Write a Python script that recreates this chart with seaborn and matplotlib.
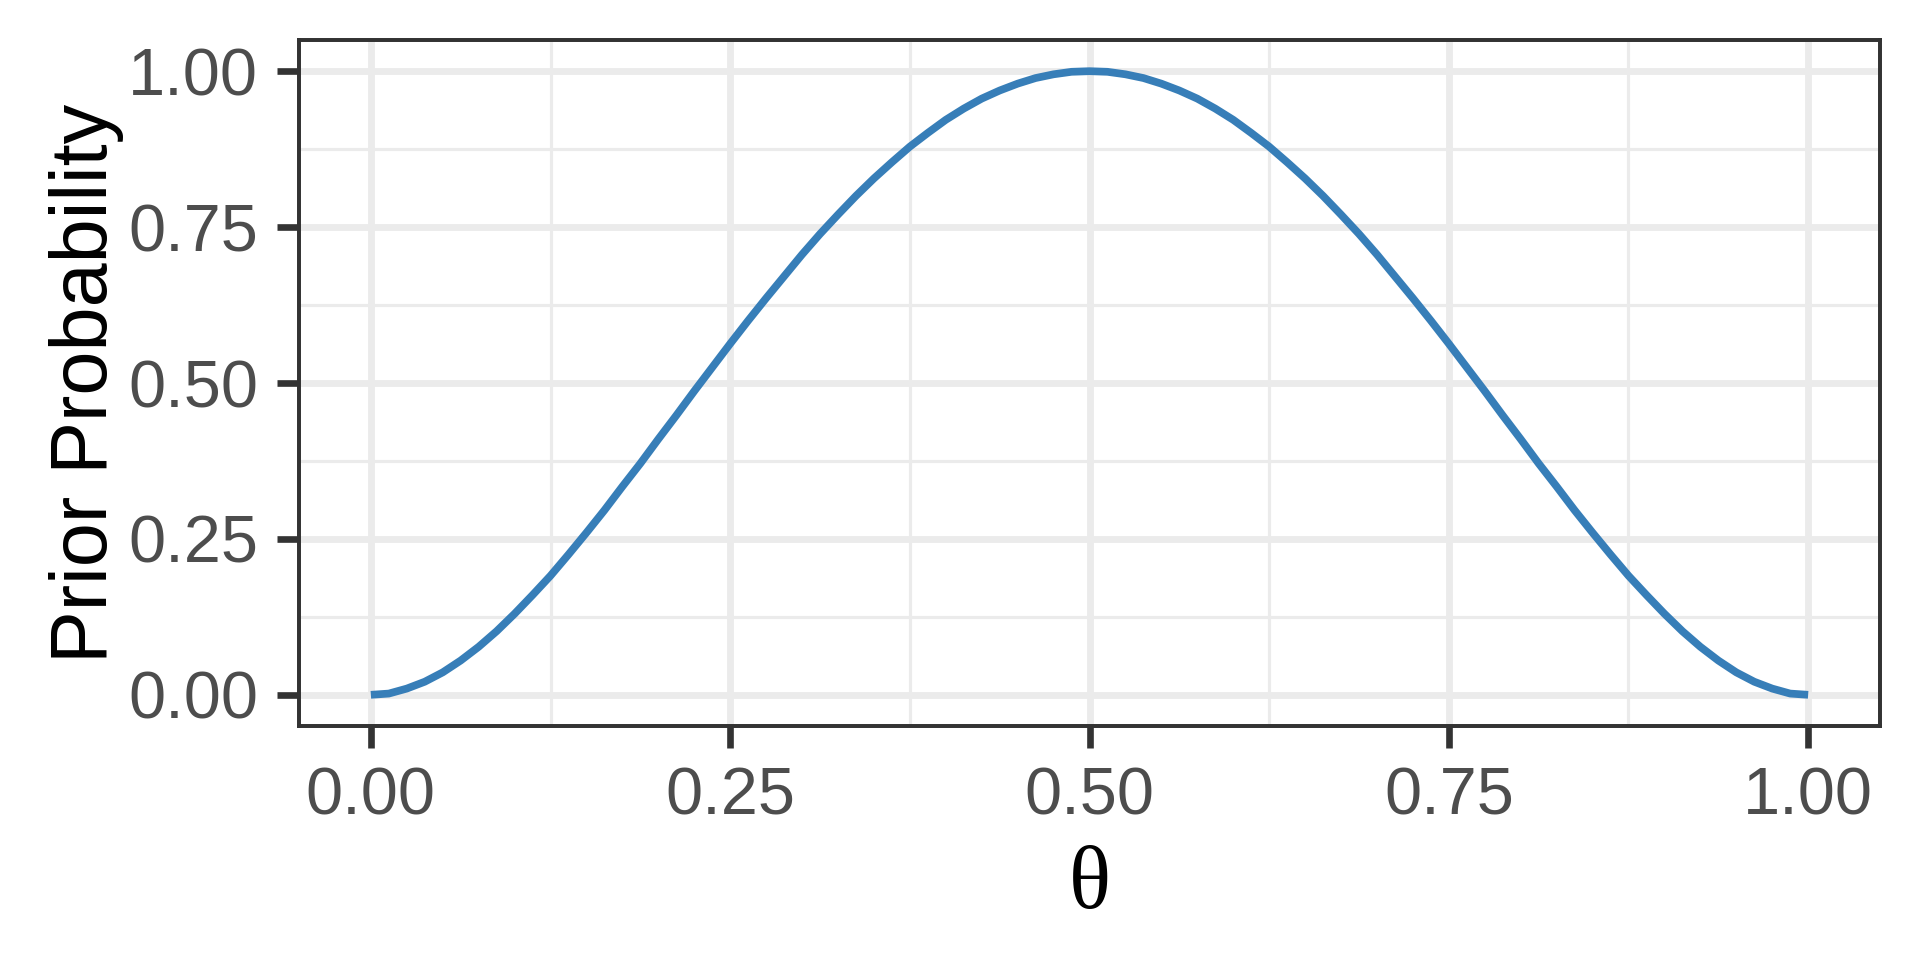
import matplotlib
matplotlib.use("Agg")
import matplotlib.pyplot as plt
import seaborn as sns
import pandas as pd

# valeurs (courbe symétrique, max 1 à 0.5)
theta = [0.0000, 0.0125, 0.0250, 0.0375, 0.0500, 0.0625, 0.0750, 0.0875,
         0.1000, 0.1125, 0.1250, 0.1375, 0.1500, 0.1625, 0.1750, 0.1875,
         0.2000, 0.2125, 0.2250, 0.2375, 0.2500, 0.2625, 0.2750, 0.2875,
         0.3000, 0.3125, 0.3250, 0.3375, 0.3500, 0.3625, 0.3750, 0.3875,
         0.4000, 0.4125, 0.4250, 0.4375, 0.4500, 0.4625, 0.4750, 0.4875,
         0.5000, 0.5125, 0.5250, 0.5375, 0.5500, 0.5625, 0.5750, 0.5875,
         0.6000, 0.6125, 0.6250, 0.6375, 0.6500, 0.6625, 0.6750, 0.6875,
         0.7000, 0.7125, 0.7250, 0.7375, 0.7500, 0.7625, 0.7750, 0.7875,
         0.8000, 0.8125, 0.8250, 0.8375, 0.8500, 0.8625, 0.8750, 0.8875,
         0.9000, 0.9125, 0.9250, 0.9375, 0.9500, 0.9625, 0.9750, 0.9875,
         1.0000]
prior = [0.000, 0.002, 0.010, 0.021, 0.036, 0.055, 0.077, 0.102,
         0.130, 0.160, 0.191, 0.225, 0.260, 0.296, 0.334, 0.371,
         0.410, 0.448, 0.487, 0.525, 0.563, 0.600, 0.636, 0.671,
         0.706, 0.739, 0.770, 0.800, 0.828, 0.854, 0.879, 0.901,
         0.922, 0.940, 0.956, 0.969, 0.980, 0.989, 0.995, 0.999,
         1.000, 0.999, 0.995, 0.989, 0.980, 0.969, 0.956, 0.940,
         0.922, 0.901, 0.879, 0.854, 0.828, 0.800, 0.770, 0.739,
         0.706, 0.671, 0.636, 0.600, 0.563, 0.525, 0.487, 0.448,
         0.410, 0.371, 0.334, 0.296, 0.260, 0.225, 0.191, 0.160,
         0.130, 0.102, 0.077, 0.055, 0.036, 0.021, 0.010, 0.002,
         0.000]
tick_vals = [0.00, 0.25, 0.50, 0.75, 1.00]
tick_labels = ["0.00", "0.25", "0.50", "0.75", "1.00"]
minor_vals = [0.125, 0.375, 0.625, 0.875]

df = pd.DataFrame({"theta": theta, "prior": prior})

sns.set_theme(style="white")
plt.rcParams["font.family"] = ["Liberation Sans", "DejaVu Sans"]

fig = plt.figure(figsize=(6.4, 3.2), dpi=300)
ax = fig.add_axes([299 / 1920, 1 - 726 / 960, (1880 - 299) / 1920, (726 - 40) / 960])

sns.lineplot(data=df, x="theta", y="prior", color="#377EB8", linewidth=1.85,
             solid_capstyle="butt", ax=ax)

ax.set_xlim(-0.05, 1.05)
ax.set_ylim(-0.05, 1.05)
ax.set_xticks(tick_vals)
ax.set_xticklabels(tick_labels)
ax.set_yticks(tick_vals)
ax.set_yticklabels(tick_labels)
ax.set_xticks(minor_vals, minor=True)
ax.set_yticks(minor_vals, minor=True)

ax.grid(which="major", color="#EBEBEB", linewidth=1.65)
ax.grid(which="minor", color="#EBEBEB", linewidth=0.75)
ax.set_axisbelow(True)

for s in ax.spines.values():
    s.set_color("#333333")
    s.set_linewidth(0.95)

ax.tick_params(which="major", length=5.3, width=1.6, color="#333333",
               labelsize=16, labelcolor="#4D4D4D", pad=4.5,
               bottom=True, left=True)
ax.tick_params(which="minor", length=0)

ax.set_xlabel("θ", fontsize=21, family=["Liberation Serif", "DejaVu Serif"], color="black")
ax.set_ylabel("Prior Probability", fontsize=19, color="black")
ax.yaxis.set_label_coords(-0.111, 0.5)
ax.xaxis.set_label_coords(0.5, -0.175)

plt.savefig("out.png", dpi=300)
